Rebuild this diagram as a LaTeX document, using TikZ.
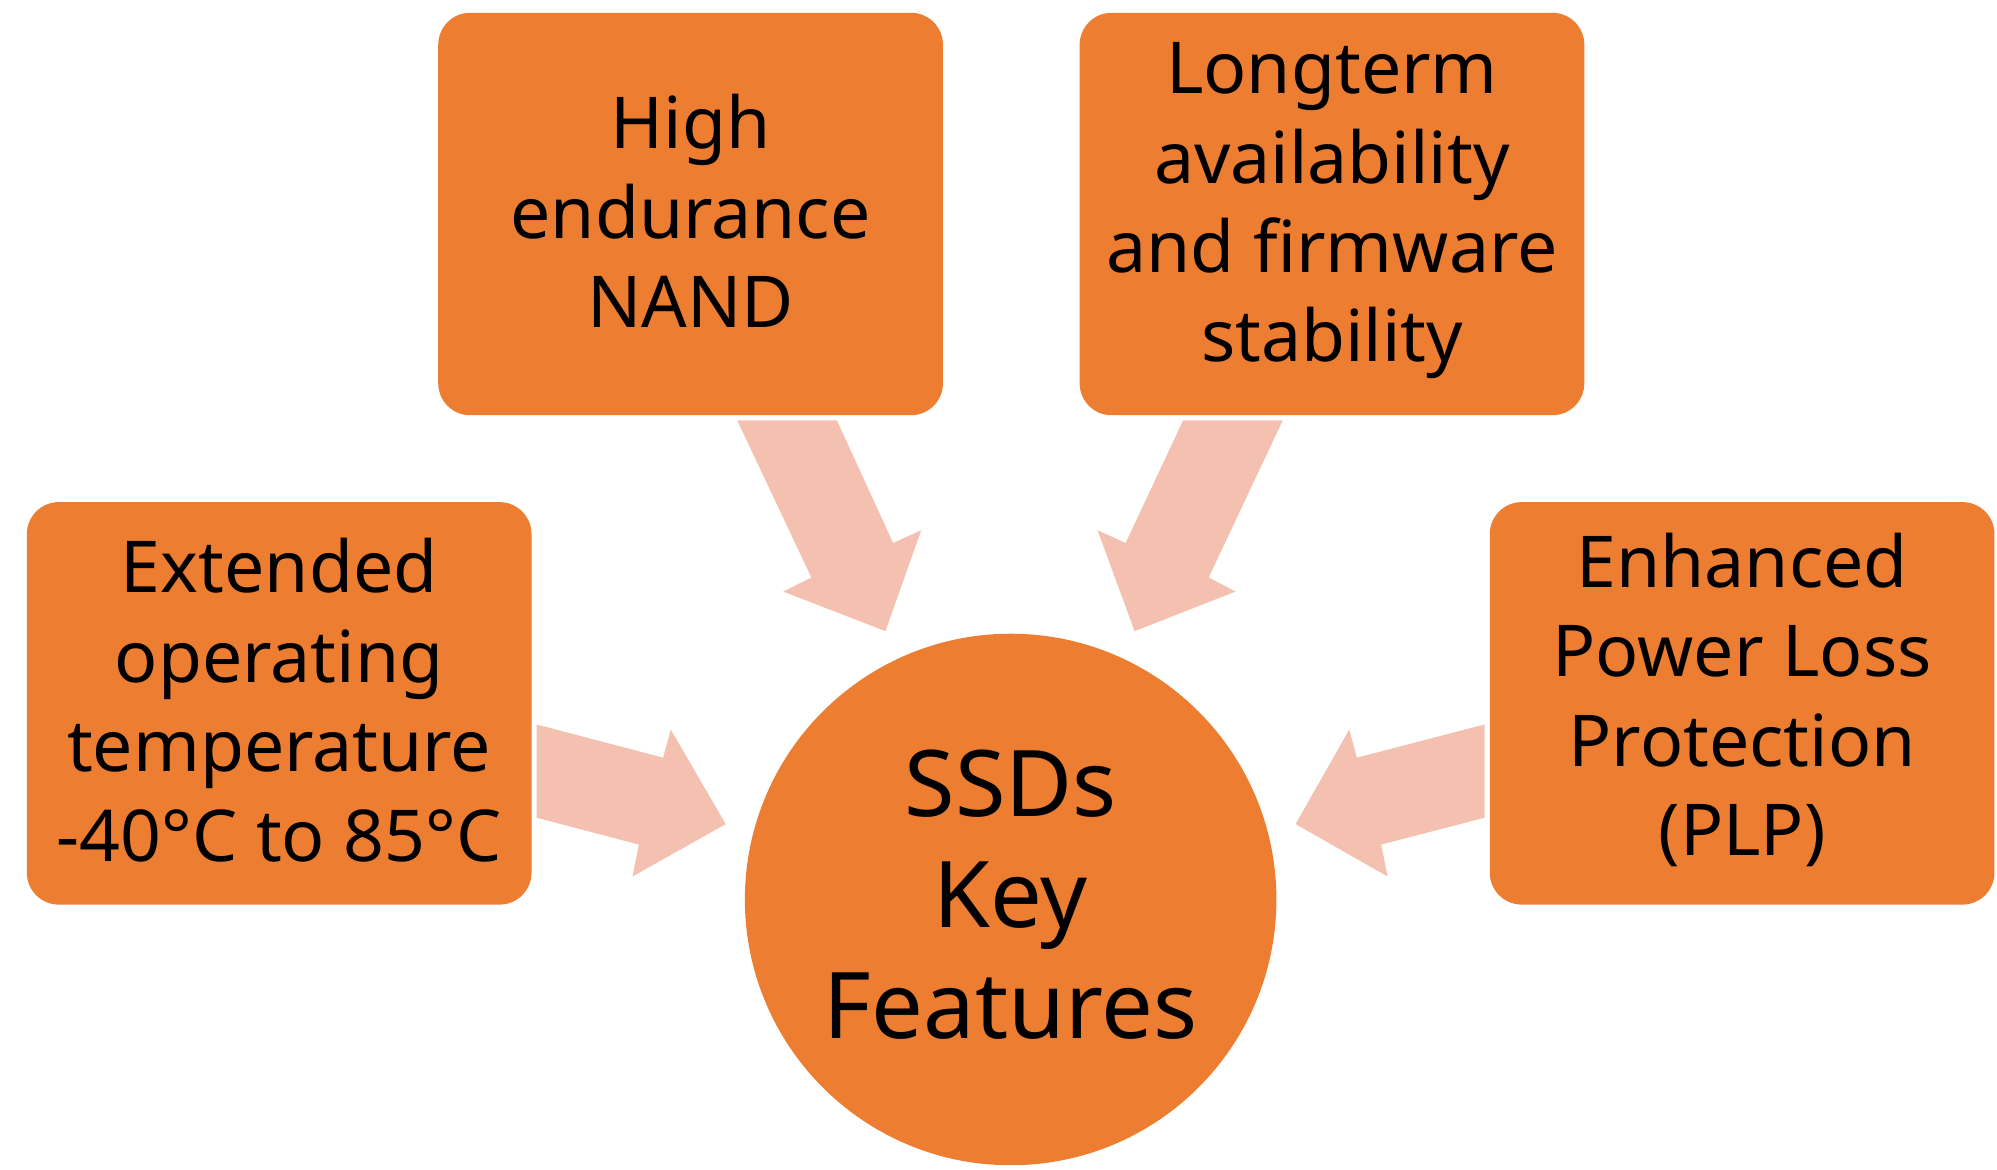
\documentclass[tikz,border=0pt]{standalone}
\usepackage{fontspec}
\setmainfont{Noto Sans}
\definecolor{boxor}{HTML}{ED7D31}
\definecolor{arrpink}{HTML}{F4C1B0}
\begin{document}
\begin{tikzpicture}[x=1pt,y=-1pt,
  feat/.style={fill=boxor,rounded corners=25pt},
  ftext/.style={font=\bfseries\fontsize{56}{70}\selectfont,align=center,text=black},
  barrow/.style={fill=arrpink}]
\useasboundingbox (0,0) rectangle (1563,915);
\fill[barrow] (420,567)--(519,593)--(525,571)--(568,645)--(495,686)--(500,661)--(420,640)--cycle;
\fill[barrow] (1162,567)--(1062,593)--(1056,571)--(1014,645)--(1086,686)--(1081,661)--(1162,640)--cycle;
\fill[barrow] (577,329)--(635,452)--(613,463)--(693,494)--(721,415)--(699,425)--(655,329)--cycle;
\fill[barrow] (1004,329)--(946,452)--(967,463)--(888,494)--(859,415)--(881,425)--(926,329)--cycle;
\fill[feat] (343,10) rectangle (738,325);
\fill[feat] (845,10) rectangle (1240,325);
\fill[feat] (21,393) rectangle (416,708);
\fill[feat] (1166,393) rectangle (1561,708);
\node[circle,fill=boxor,minimum size=416pt,inner sep=0] (c) at (791,704) {};
\node[ftext] (a) at (540.5,165) {High\\endurance\\NAND};
\node[ftext] (b) at (1042.5,165) {Longterm\\availability\\and firmware\\stability};
\node[ftext] (l) at (218.5,548) {Extended\\operating\\temperature\\-40°C to 85°C};
\node[ftext] (r) at (1363.5,548) {Enhanced\\Power Loss\\Protection\\(PLP)};
\node[font=\bfseries\fontsize{72}{87}\selectfont,align=center] (ct) at (791,700) {SSDs\\Key\\Features};
\end{tikzpicture}
\end{document}
